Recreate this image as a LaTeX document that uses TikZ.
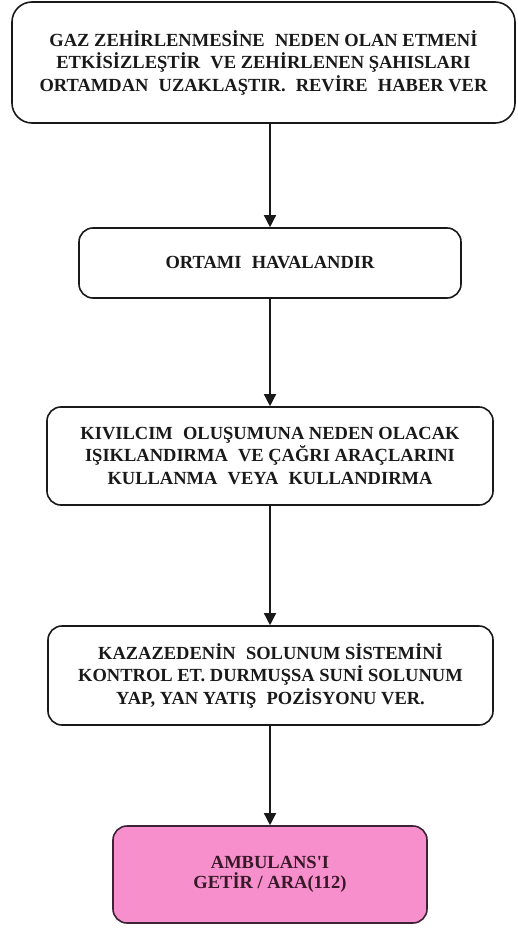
\documentclass[tikz,border=0pt]{standalone}
\usepackage{fontspec}
\setmainfont{Liberation Serif}
\usetikzlibrary{arrows.meta}
\definecolor{pinkfill}{RGB}{247,143,204}
\definecolor{pinkborder}{RGB}{60,35,55}
\definecolor{pinktext}{RGB}{55,25,40}
\definecolor{ink}{RGB}{25,25,25}
\newcommand{\dsp}{\hspace{0.55em}}
\tikzset{
  stepbox/.style={draw=ink, line width=1.6pt, rounded corners=14pt, align=center,
    inner sep=0pt, font=\fontsize{18.5}{22.5}\selectfont\bfseries, text=ink},
  endbox/.style={stepbox, fill=pinkfill, draw=pinkborder, text=pinktext,
    font=\fontsize{18.5}{20.5}\selectfont\bfseries},
  flow/.style={draw=ink, line width=1.4pt, -{Triangle[length=12pt,width=12pt]}},
}
\begin{document}
\begin{tikzpicture}[x=1pt,y=-1pt]
\useasboundingbox (0,0) rectangle (517,928);
\node[stepbox, minimum width=503pt, minimum height=121pt, rounded corners=20pt] (a) at (263.5,62.5)
  {GAZ ZEHİRLENMESİNE\dsp NEDEN OLAN ETMENİ\\ETKİSİZLEŞTİR\dsp VE ZEHİRLENEN ŞAHISLARI\\ORTAMDAN\dsp UZAKLAŞTIR.\dsp REVİRE\dsp HABER VER};
\node[stepbox, minimum width=382pt, minimum height=70pt] (b) at (270,263)
  {ORTAMI\dsp HAVALANDIR};
\node[stepbox, minimum width=446pt, minimum height=98pt] (c) at (270,456)
  {KIVILCIM\dsp OLUŞUMUNA NEDEN OLACAK\\IŞIKLANDIRMA\dsp VE ÇAĞRI ARAÇLARINI\\KULLANMA\dsp VEYA\dsp KULLANDIRMA};
\node[stepbox, minimum width=445pt, minimum height=99pt] (d) at (270.5,675.5)
  {KAZAZEDENİN\dsp SOLUNUM SİSTEMİNİ\\KONTROL ET. DURMUŞSA SUNİ SOLUNUM\\YAP, YAN YATIŞ\dsp POZİSYONU VER.};
\node[endbox, minimum width=314pt, minimum height=97pt] (e) at (270,874.5)
  {AMBULANS\textquotesingle I\\GETİR / ARA(112)};
\draw[flow] (a.south -| b.north) -- (b.north);
\draw[flow] (b.south) -- (c.north -| b.south);
\draw[flow] (c.south -| b.south) -- (d.north -| b.south);
\draw[flow] (d.south -| b.south) -- (e.north -| b.south);
\end{tikzpicture}
\end{document}
